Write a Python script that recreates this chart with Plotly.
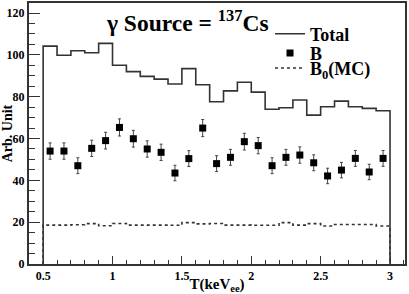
import plotly.graph_objects as go

# ---- data ----
bin_edges = [0.5, 0.6, 0.7, 0.8, 0.9, 1.0, 1.1, 1.2, 1.3, 1.4, 1.5, 1.6, 1.7,
             1.8, 1.9, 2.0, 2.1, 2.2, 2.3, 2.4, 2.5, 2.6, 2.7, 2.8, 2.9, 3.0]
bin_centers = [0.55, 0.65, 0.75, 0.85, 0.95, 1.05, 1.15, 1.25, 1.35, 1.45, 1.55,
               1.65, 1.75, 1.85, 1.95, 2.05, 2.15, 2.25, 2.35, 2.45, 2.55, 2.65,
               2.75, 2.85, 2.95]
total = [104.2, 99.8, 102.0, 101.0, 105.5, 95.0, 92.0, 89.7, 88.4, 86.1, 93.4,
         85.7, 77.6, 82.8, 86.9, 82.2, 74.0, 74.7, 78.4, 71.2, 75.2, 77.9, 75.2,
         74.4, 73.3]
b_vals = [54.0, 54.0, 47.0, 55.3, 59.0, 65.3, 59.9, 55.0, 53.4, 43.5, 50.4,
          65.0, 48.0, 51.0, 58.5, 56.6, 47.0, 51.0, 52.1, 48.4, 42.1, 44.9,
          50.5, 44.0, 50.5]
b_errs = [3.9, 3.9, 3.8, 3.9, 4.0, 4.1, 4.0, 3.9, 3.9, 3.7, 3.8, 4.1, 3.8,
          3.8, 4.0, 3.9, 3.8, 3.8, 3.9, 3.8, 3.7, 3.7, 3.8, 3.7, 3.8]
b0_mc = [18.6, 18.6, 18.8, 19.3, 18.3, 19.4, 18.6, 18.6, 18.6, 18.5, 19.8,
         19.2, 19.4, 18.6, 18.6, 18.5, 18.5, 19.8, 18.6, 19.3, 18.2, 18.9,
         18.9, 18.9, 18.2]
x_ticks = [0.5, 1, 1.5, 2, 2.5, 3]
x_ticklabels = ["0.5", "1", "1.5", "2", "2.5", "3"]
y_ticks = [0, 20, 40, 60, 80, 100, 120]


def step(edges, vals):
    xs = [edges[0]] + list(edges) + [edges[-1]]
    ys = [0] + list(vals) + [vals[-1], 0]
    return xs, ys


FONT = "Liberation Serif"
LINE = "#333333"

fig = go.Figure()

tx, ty = step(bin_edges, total)
fig.add_trace(go.Scatter(x=tx, y=ty, mode="lines", line=dict(shape="hv", color=LINE, width=1.6),
                         name="Total", legend="legend"))

fig.add_trace(go.Scatter(x=bin_centers, y=b_vals, mode="markers", name="B",
                         marker=dict(symbol="square", size=7, color="black"),
                         error_y=dict(type="data", array=b_errs, color="#444444",
                                      thickness=1, width=1.5),
                         legend="legend2"))

mx, my = step(bin_edges, b0_mc)
fig.add_trace(go.Scatter(x=mx, y=my, mode="lines", name="B<sub>0</sub>(MC)",
                         line=dict(shape="hv", color=LINE, width=1.6, dash="dot"),
                         legend="legend3"))

leg_common = dict(xanchor="left", yanchor="middle", bgcolor="rgba(0,0,0,0)",
                  font=dict(family=FONT, size=18, color="black", weight="bold"),
                  itemwidth=30, borderwidth=0)

fig.update_layout(
    width=409, height=294,
    margin=dict(l=29, r=4, t=3, b=30),
    paper_bgcolor="white", plot_bgcolor="white",
    showlegend=True,
    legend=dict(x=0.641, y=0.881, **leg_common),
    legend2=dict(x=0.641, y=0.807, **leg_common),
    legend3=dict(x=0.641, y=0.75, **leg_common),
    xaxis=dict(range=[0.398, 3.108], showgrid=False, zeroline=False, automargin=False,
               tickvals=x_ticks, ticktext=x_ticklabels,
               ticks="inside", ticklen=8, tickwidth=1, tickcolor=LINE,
               minor=dict(ticks="inside", ticklen=4, dtick=0.1, tick0=0.5, tickcolor=LINE),
               showline=True, linecolor=LINE, linewidth=2, mirror=True,
               tickfont=dict(family=FONT, size=12, color="black", weight="bold"),
               title=dict(text="T(keV<sub>ee</sub>)", standoff=0,
                          font=dict(family=FONT, size=15, color="black", weight="bold"))),
    yaxis=dict(range=[0, 124.8], showgrid=False, zeroline=False, automargin=False,
               tickvals=y_ticks,
               ticks="inside", ticklen=11, tickwidth=1, tickcolor=LINE,
               minor=dict(ticks="inside", ticklen=6, dtick=5, tickcolor=LINE),
               showline=True, linecolor=LINE, linewidth=2, mirror=True,
               tickfont=dict(family=FONT, size=12, color="black", weight="bold"),
               title=dict(text="Arb. Unit", standoff=0,
                          font=dict(family=FONT, size=14, color="black", weight="bold"))),
    annotations=[dict(text="γ Source = <sup>137</sup>Cs", xref="paper", yref="paper",
                      x=0.422, y=0.93, xanchor="center", yanchor="middle", showarrow=False,
                      font=dict(family=FONT, size=23.5, color="black", weight="bold"))],
)

fig.write_html("out.html", config={"displayModeBar": False},
               post_script="document.body.style.margin='0';")
